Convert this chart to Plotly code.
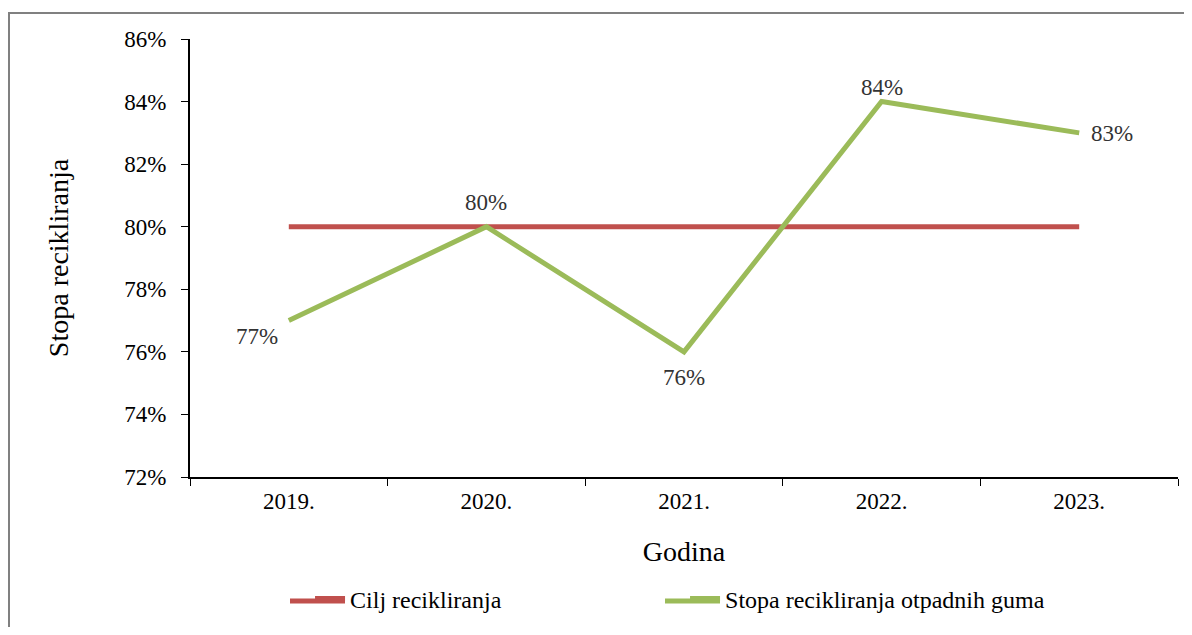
import plotly.graph_objects as go

years = ["2019.", "2020.", "2021.", "2022.", "2023."]
target = [0.80, 0.80, 0.80, 0.80, 0.80]
rate = [0.77, 0.80, 0.76, 0.84, 0.83]
rate_labels = ["77%", "80%", "76%", "84%", "83%"]
# pixel offsets of each data label from its point (style only)
label_dx = [-32, 0, 0, 0, 33]
label_dy = [-16, 24, -26, 14, -1]

FONT = "Liberation Serif"

# page has an 8px body margin; figure origin sits at (8, 8)
W, H = 1176, 619
L, T = 182, 31
PW, PH = 988, 438
R = W - L - PW
B = H - T - PH

fig = go.Figure()
fig.add_trace(go.Scatter(
    x=years, y=target, mode="lines", name="Cilj recikliranja",
    line=dict(color="#C0504D", width=5),
))
fig.add_trace(go.Scatter(
    x=years, y=rate, mode="lines", name="Stopa recikliranja otpadnih guma",
    line=dict(color="#9BBB59", width=5),
))

# category axis: annotation x given as the category index
annotations = [
    dict(x=i, y=y, xref="x", yref="y", text=t, showarrow=False,
         xshift=dx, yshift=dy, font=dict(family=FONT, size=23, color="#333333"))
    for i, (y, t, dx, dy) in enumerate(zip(rate, rate_labels, label_dx, label_dy))
]

LEG_Y = -0.2785
leg_y_paper = LEG_Y - 2 / PH
swatch_ext = [
    dict(type="line", xref="paper", yref="paper",
         x0=(290 - 190) / PW, x1=(345 - 190) / PW, y0=leg_y_paper, y1=leg_y_paper,
         line=dict(color="#C0504D", width=5)),
    dict(type="line", xref="paper", yref="paper",
         x0=(665 - 190) / PW, x1=(720 - 190) / PW, y0=leg_y_paper, y1=leg_y_paper,
         line=dict(color="#9BBB59", width=5)),
]

fig.update_layout(
    width=W, height=H,
    margin=dict(l=L, r=R, t=T, b=B, pad=0),
    paper_bgcolor="white", plot_bgcolor="white",
    font=dict(family=FONT, size=23, color="black"),
    showlegend=True,
    legend=dict(orientation="h", x=0.1215, xanchor="left", y=LEG_Y, yanchor="middle",
                entrywidth=330, entrywidthmode="pixels", bgcolor="rgba(0,0,0,0)",
                font=dict(family=FONT, size=24, color="black")),
    xaxis=dict(type="category", tickson="boundaries", ticks="outside", ticklen=7,
               tickcolor="black", showline=True, linecolor="black", linewidth=2,
               showgrid=False, title=dict(text="Godina", standoff=29),
               tickfont=dict(family=FONT, size=23, color="black"),
               ticklabelstandoff=2, range=[-0.5, 4.5]),
    yaxis=dict(range=[0.72, 0.86], dtick=0.02, tickformat=".0%", ticks="outside",
               ticklen=7, tickcolor="black", showline=True, linecolor="black",
               linewidth=2, showgrid=False, zeroline=False, ticklabelstandoff=10,
               tickfont=dict(family=FONT, size=23, color="black"),
               title=dict(text="Stopa recikliranja", standoff=47)),
    annotations=annotations,
    shapes=[dict(type="rect", xref="paper", yref="paper",
                 x0=(1 - L) / PW, x1=(W + 30 - L) / PW,
                 y0=-(B + 30) / PH, y1=1 + (T - 5) / PH,
                 line=dict(color="#808080", width=2), layer="below")] + swatch_ext,
)

fig.write_html("out.html")
